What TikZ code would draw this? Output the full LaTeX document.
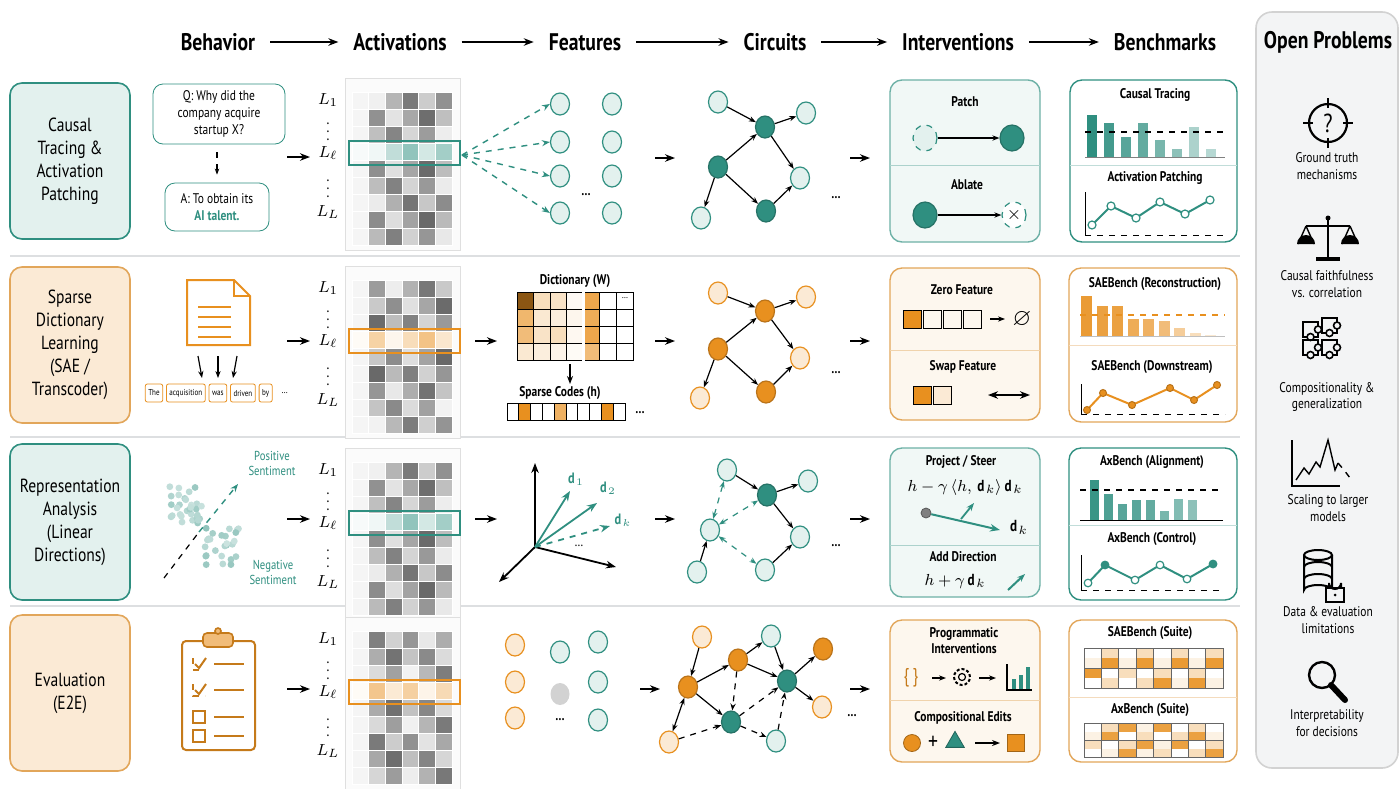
\documentclass[tikz,border=0pt]{standalone}
\usepackage{fontspec}
\setmainfont{PT Sans}[FakeStretch=0.82]
\usepackage{amsmath,amssymb}
\usetikzlibrary{shapes.geometric, arrows.meta, positioning, calc}
\definecolor{teal}{HTML}{2F8F80}
\definecolor{teallight}{HTML}{E3F1EE}
\definecolor{orng}{HTML}{E8901F}
\definecolor{orngline}{HTML}{E2A65A}
\definecolor{orglight}{HTML}{FBEAD5}
\colorlet{org}{orngline}
\colorlet{ornglight}{orglight}
\definecolor{panelgray}{HTML}{F3F4F5}
\definecolor{sepgray}{HTML}{DDDFE1}

% activation grid: #1 top y, #2 highlight colour, #3 name
\newcommand\actgrid[3]{%
  \fill[gray!3] (345,#1) rectangle (460,#1+172);
  \draw[gray!25, line width=0.4pt] (345,#1) rectangle (460,#1+172);
  \foreach \r in {0,...,8} {
    \foreach \c in {0,...,5} {
      \pgfmathtruncatemacro{\s}{\c==0 ? 4 : mod(37*\r+23*\c+11*#1,55)+5}
      \ifnum\r=3
        \fill[#2!\s!white] (352+\c*16.7,#1+14+\r*17) rectangle ++(16.7,17);
      \else
        \fill[black!\s!white] (352+\c*16.7,#1+14+\r*17) rectangle ++(16.7,17);
      \fi
      \draw[white, line width=0.4pt] (352+\c*16.7,#1+14+\r*17) rectangle ++(16.7,17);
    }
  }
  \draw[#2, line width=1.1pt] (349,#1+63) rectangle (460,#1+87);
  \node[lay] (#3l1) at (328,#1+22) {$L_1$};
  \node[lay] (#3d1) at (328,#1+48) {$\vdots$};
  \node[lay] (#3ll) at (328,#1+75) {$L_\ell$};
  \node[lay] (#3d2) at (328,#1+105) {$\vdots$};
  \node[lay] (#3lL) at (328,#1+134) {$L_L$};
}

\begin{document}
\begin{tikzpicture}[x=0.5pt, y=-0.5pt,
  hdr/.style={font=\fontsize{12}{14}\selectfont\bfseries},
  rowlab/.style={draw=#1, fill=#1light, rounded corners=6pt, line width=0.8pt,
    minimum width=60pt, minimum height=78pt, align=center,
    font=\fontsize{9.5}{11.5}\selectfont},
  lay/.style={font=\fontsize{8}{9}\selectfont},
  ttl/.style={font=\fontsize{7}{8}\selectfont\bfseries, align=center},
  sm/.style={font=\fontsize{7}{8.4}\selectfont, align=center},
  flow/.style={-{Stealth[length=5pt]}, line width=1pt},
  ed/.style={-{Stealth[length=3.5pt]}, line width=0.6pt},
  ded/.style={{Stealth[length=3.5pt]}-{Stealth[length=3.5pt]}, line width=0.6pt, dashed, teal},
  fn/.style={ellipse, draw=#1, fill=#1light, minimum width=9.5pt, minimum height=11pt, inner sep=0pt, line width=0.6pt},
  fd/.style={ellipse, draw=#1!80!black, fill=#1, minimum width=9.5pt, minimum height=11pt, inner sep=0pt, line width=0.6pt},
  tok/.style={draw=orng, rounded corners=1pt, font=\fontsize{4.3}{5}\selectfont, inner sep=1.5pt, minimum height=9pt}
]
\useasboundingbox (0,0) rectangle (1400,788);
\fill[white] (0,0) rectangle (1400,788);

% Headers
\node[hdr] (hbeh) at (218,42) {Behavior};
\node[hdr] (hact) at (400,42) {Activations};
\node[hdr] (hfea) at (585,42) {Features};
\node[hdr] (hcir) at (775,42) {Circuits};
\node[hdr] (hint) at (958,42) {Interventions};
\node[hdr] (hben) at (1165,42) {Benchmarks};
\foreach \a/\b in {hbeh/hact, hact/hfea, hfea/hcir, hcir/hint, hint/hben}
  \draw[flow] (\a.east) ++(8,0) -- ($(\b.west)+(-8,0)$);

% Separators
\foreach \y in {256,437,606}
  \draw[sepgray, line width=1pt] (10,\y) -- (1240,\y);

% Row labels
\node[rowlab=teal] (r1) at (70,161) {Causal\\Tracing \&\\Activation\\Patching};
\node[rowlab=org, fill=orglight] (r2) at (70,345) {Sparse\\Dictionary\\Learning\\(SAE /\\Transcoder)};
\node[rowlab=teal] (r3) at (70,522) {Representation\\Analysis\\(Linear\\Directions)};
\node[rowlab=org, fill=orglight] (r4) at (70,693) {Evaluation\\(E2E)};

% Row 1 behaviour
\node[draw=teal, rounded corners=5pt, sm, minimum width=66pt, minimum height=30pt, fill=white] (q1) at (219,114) {Q: Why did the\\company acquire\\startup X?};
\node[draw=teal, rounded corners=5pt, sm, minimum width=52pt, minimum height=24pt] (a1) at (217,207) {A: To obtain its\\\textcolor{teal}{\bfseries AI talent.}};
\draw[-{Stealth[length=3pt]}, dashed, line width=0.6pt] (q1.south) ++(-2,8) -- ($(a1.north)+(0,-8)$);
\actgrid{78}{teal}{g1}
\draw[flow] (287,157) -- (310,157);
% Row 1 features
\foreach \i/\y in {1/104,2/142,3/176,4/213} {
  \node[fn=teal] (fa\i) at (560,\y) {};
  \node[fn=teal] (fb\i) at (612,\y) {};
}
\node[sm] (fdots1) at (586,195) {\textbf{\dots}};
\coordinate (g1out) at (462,155);
\foreach \i in {1,...,4}
  \draw[teal, dashed, -{Stealth[length=4pt]}, line width=0.7pt] (g1out) -- (fa\i.west);
\draw[flow] (655,158) -- (675,158);
% Row 1 circuit
\node[fn=teal] (c1a) at (718,102) {};
\node[fd=teal] (c1b) at (765,127) {};
\node[fn=teal] (c1c) at (806,113) {};
\node[fd=teal] (c1d) at (718,167) {};
\node[fn=teal] (c1e) at (800,178) {};
\node[fd=teal] (c1f) at (766,211) {};
\node[fn=teal] (c1g) at (701,218) {};
\draw[ed] (c1a) -- (c1b); \draw[ed] (c1b) -- (c1c); \draw[ed] (c1d) -- (c1b);
\draw[ed] (c1b) -- (c1e); \draw[ed] (c1d) -- (c1f); \draw[ed] (c1f) -- (c1e);
\draw[ed, {Stealth[length=3.5pt]}-] (c1g) -- (c1d);
\node[sm] (cdots1) at (836,198) {\textbf{\dots}};
\draw[flow] (850,158) -- (870,158);
% Row 1 interventions
\draw[teal!70, fill=teallight!50, rounded corners=6pt, line width=0.7pt] (890,80) rectangle (1040,242);
\draw[teal!40] (890,165) -- (1040,165);
\node[ttl] (tpatch) at (965,102) {Patch};
\node[fn=teal, dashed, minimum width=12pt, minimum height=13pt] (p1) at (925,138) {};
\node[fd=teal, minimum width=12pt, minimum height=13pt] (p2) at (1012,138) {};
\draw[ed] (p1) -- (p2);
\node[ttl] (tabl) at (967,185) {Ablate};
\node[fd=teal, minimum width=12pt, minimum height=13pt] (ab1) at (925,215) {};
\node[fn=teal, dashed, fill=white, minimum width=12pt, minimum height=13pt, font=\small] (ab2) at (1014,215) {$\times$};
\draw[ed] (ab1) -- (ab2);
% Row 1 benchmarks
\draw[teal, fill=white, rounded corners=6pt, line width=0.7pt] (1070,80) rectangle (1237,242);
\draw[teal!30] (1070,165) -- (1237,165);
\node[ttl] (tct) at (1155,95) {Causal Tracing};
\foreach \i/\h/\o in {0/42/100,1/34/90,2/20/80,3/34/75,4/17/65,5/8/55,6/30/40,7/8/35}
  \fill[teal!\o!white] (1087+\i*17,157) rectangle ++(10,-\h);
\draw[gray] (1085,157) -- (1225,157);
\draw[dashed, line width=0.7pt] (1085,132) -- (1225,132);
\node[ttl] (tap) at (1155,178) {Activation Patching};
\draw (1085,192) -- (1085,235); \draw[dashed] (1085,235) -- (1225,235);
\draw[teal, line width=1pt] (1092,225) -- (1111,206) -- (1136,218) -- (1160,202) -- (1185,214) -- (1210,200);
\foreach \x/\y in {1092/225,1111/206,1136/218,1160/202,1185/214,1210/200}
  \draw[teal, fill=white, line width=0.6pt] (\x,\y) circle (4);

% Row 2 behaviour: document
\draw[orng, line width=1pt, fill=white] (187,280) -- (234,280) -- (250,296) -- (250,345) -- (187,345) -- cycle;
\draw[orng, line width=1pt] (234,280) -- (234,296) -- (250,296);
\foreach \y in {307,317,327,337} \draw[orng, line width=0.9pt] (198,\y) -- (231,\y);
\foreach \x/\d in {198/4,218/0,237/-4} \draw[ed] (\x,356) -- (\x+\d,378);
\node[tok] (t1) at (154,393) {The};
\node[tok, right=1.5pt of t1] (t2) {acquisition};
\node[tok, right=1.5pt of t2] (t3) {was};
\node[tok, right=1.5pt of t3] (t4) {driven};
\node[tok, right=1.5pt of t4] (t5) {by};
\node[font=\fontsize{5}{6}\selectfont, right=1pt of t5] (t6) {\dots};
\actgrid{266}{orng}{g2}
\draw[flow] (287,341) -- (310,341);
\draw[flow] (475,341) -- (497,341);
% Dictionary
\node[ttl] (tdict) at (575,281) {Dictionary (W)};
\foreach \c/\a/\b/\cc/\d in {0/85/65/60/20,1/30/20/25/15,2/25/15/30/10,3/5/8/6/4,4/80/75/80/60,5/0/0/0/0} {
  \fill[orng!\a!white] (517+\c*16.5,292) rectangle ++(16.5,17);
  \fill[orng!\b!white] (517+\c*16.5,309) rectangle ++(16.5,17);
  \fill[orng!\cc!white] (517+\c*16.5,326) rectangle ++(16.5,17);
  \fill[orng!\d!white] (517+\c*16.5,343) rectangle ++(16.5,17);
}
\fill[orng!60!black] (517,292) rectangle ++(16.5,17);
\foreach \c in {1,...,6} \draw (517+\c*16.5,292) -- ++(0,68);
\foreach \r in {1,2,3} \draw (517,292+\r*17) -- ++(116,0);
\draw (517,292) rectangle (633,360);
\draw[white, line width=1.5pt] (583,290) -- (583,362);
\node[font=\fontsize{5}{6}\selectfont] (ddots) at (625,298) {\dots};
\draw[-{Stealth[length=4pt]}, line width=1pt] (570,364) -- (570,384);
\node[ttl] (tcode) at (560,393) {Sparse Codes (h)};
\foreach \i in {0,...,9} {
  \pgfmathtruncatemacro{\o}{(\i==1 || \i==8) ? 100 : (\i==4 ? 70 : 0)}
  \fill[orng!\o!white] (507+\i*11.8,403) rectangle ++(11.8,17);
  \draw (507+\i*11.8,403) rectangle ++(11.8,17);
}
\node[ttl] (cdots) at (640,413) {\dots};
\draw[flow] (655,341) -- (675,341);
% Row 2 circuit
\node[fn=orng, fill=orglight] (c2a) at (718,293) {};
\node[fd=orng] (c2b) at (765,311) {};
\node[fn=orng, fill=orglight] (c2c) at (806,297) {};
\node[fd=orng] (c2d) at (718,349) {};
\node[fn=orng, fill=orglight] (c2e) at (800,358) {};
\node[fd=orng] (c2f) at (766,392) {};
\node[fn=orng, fill=orglight] (c2g) at (700,398) {};
\draw[ed] (c2a) -- (c2b); \draw[ed] (c2b) -- (c2c); \draw[ed] (c2d) -- (c2b);
\draw[ed] (c2b) -- (c2e); \draw[ed] (c2d) -- (c2f); \draw[ed] (c2f) -- (c2e);
\draw[ed, {Stealth[length=3.5pt]}-] (c2g) -- (c2d);
\node[sm] (cdots2) at (836,373) {\textbf{\dots}};
\draw[flow] (850,341) -- (870,341);
% Row 2 interventions
\draw[orngline, fill=orglight!40, rounded corners=6pt, line width=0.7pt] (890,268) rectangle (1040,420);
\draw[orngline!50] (890,350) -- (1040,350);
\node[ttl] (tzero) at (962,290) {Zero Feature};
\fill[orng] (903,310) rectangle ++(18,18);
\foreach \i in {0,...,3} \draw (903+\i*20,310) rectangle ++(18,18);
\draw[ed] (990,319) -- (1005,319);
\node[sm] (tnull) at (1022,319) {\large$\varnothing$};
\node[ttl] (tswap) at (963,367) {Swap Feature};
\fill[orng] (913,386) rectangle ++(18,18); \fill[orglight] (933,386) rectangle ++(18,18);
\draw (913,386) rectangle ++(18,18); \draw (933,386) rectangle ++(18,18);
\draw[{Stealth[length=5pt]}-{Stealth[length=5pt]}, line width=1.1pt] (988,395) -- (1030,395);
% Row 2 benchmarks
\draw[orngline, fill=white, rounded corners=6pt, line width=0.7pt] (1069,268) rectangle (1237,422);
\draw[orngline!40] (1069,345) -- (1237,345);
\node[ttl] (trec) at (1155,284) {SAEBench (Reconstruction)};
\foreach \i/\h/\o in {0/40/90,1/30/85,2/30/85,3/17/75,4/17/70,5/15/60,6/8/45,7/3/30,8/1/20}
  \fill[orng!\o!white] (1081+\i*15.5,336) rectangle ++(11,-\h);
\draw[gray!50] (1080,336) -- (1225,336);
\draw[orng, dashed, line width=0.7pt] (1080,315) -- (1225,315);
\node[ttl] (tdown) at (1152,367) {SAEBench (Downstream)};
\draw (1081,384) -- (1081,414); \draw[dashed] (1081,414) -- (1225,414);
\draw[orng, line width=1pt] (1087,410) -- (1103,393) -- (1132,405) -- (1170,388) -- (1194,400) -- (1217,385);
\foreach \x/\y in {1087/410,1103/393,1132/405,1170/388,1194/400,1217/385}
  \draw[orng!80!black, fill=orng, line width=0.5pt] (\x,\y) circle (3.5);

% Row 3 behaviour: scatter
\pgfmathsetseed{11}
\foreach \i in {1,...,30} {
  \pgfmathsetmacro{\px}{185+18*rand}
  \pgfmathsetmacro{\py}{503+22*rand}
  \pgfmathtruncatemacro{\pa}{25+25*rnd}
  \fill[teal!\pa!white] (\px,\py) circle (3.4);
}
\foreach \i in {1,...,26} {
  \pgfmathsetmacro{\px}{222+17*rand}
  \pgfmathsetmacro{\py}{548+20*rand}
  \pgfmathtruncatemacro{\pa}{25+30*rnd}
  \fill[teal!\pa!white] (\px,\py) circle (3.4);
}
\coordinate (sl0) at (164,578);
\draw[dashed, line width=0.6pt] (sl0) -- ++(35,-46);
\draw[teal, dashed, -{Stealth[length=4pt]}, line width=0.7pt] (199,532) -- (238,484);
\node[sm, text=teal, font=\fontsize{6.5}{7.5}\selectfont] (tpos) at (272,463) {Positive\\Sentiment};
\node[sm, text=teal, font=\fontsize{6.5}{7.5}\selectfont] (tneg) at (273,572) {Negative\\Sentiment};
\actgrid{448}{teal}{g3}
\draw[flow] (287,519) -- (310,519);
\draw[flow] (475,519) -- (497,519);
% Directions
\coordinate (o3) at (535,547);
\draw[-{Stealth[length=5pt]}, line width=0.9pt] (o3) -- (535,463);
\draw[-{Stealth[length=5pt]}, line width=0.9pt] (o3) -- (616,567);
\draw[-{Stealth[length=5pt]}, line width=0.9pt] (o3) -- (499,582);
\draw[teal, -{Stealth[length=5pt]}, line width=0.9pt] (o3) -- (570,491);
\draw[teal, -{Stealth[length=5pt]}, line width=0.9pt] (o3) -- (597,503);
\draw[teal, dashed, -{Stealth[length=5pt]}, line width=0.9pt] (o3) -- (610,526);
\node[text=teal, font=\fontsize{7.5}{9}\selectfont] (ld1) at (576,479) {$\mathbf{d}_1$};
\node[text=teal, font=\fontsize{7.5}{9}\selectfont] (ld2) at (608,488) {$\mathbf{d}_2$};
\node[text=teal, font=\fontsize{7.5}{9}\selectfont] (ldk) at (623,520) {$\mathbf{d}_k$};
\node[sm] (vdots) at (579,546) {\dots};
\draw[flow] (655,519) -- (675,519);
% Row 3 circuit
\node[fn=teal] (c3a) at (727,470) {};
\node[fd=teal] (c3b) at (767,495) {};
\node[fn=teal] (c3c) at (808,481) {};
\node[fn=teal] (c3d) at (710,530) {};
\node[fn=teal] (c3e) at (800,537) {};
\node[fn=teal] (c3f) at (765,570) {};
\node[fn=teal] (c3g) at (697,572) {};
\draw[ed] (c3a) -- (c3b); \draw[ed] (c3b) -- (c3c);
\draw[ded] (c3d) -- (c3a); \draw[ded] (c3d) -- (c3b); \draw[ded] (c3d) -- (c3f);
\draw[ed] (c3b) -- (c3e); \draw[ed] (c3f) -- (c3e); \draw[ed] (c3g) -- (c3d);
\node[sm] (cdots3) at (836,546) {\textbf{\dots}};
\draw[flow] (850,519) -- (870,519);
% Row 3 interventions
\draw[teal!70, fill=teallight!50, rounded corners=6pt, line width=0.7pt] (890,448) rectangle (1040,597);
\draw[teal!40] (890,545) -- (1040,545);
\node[ttl] (tproj) at (961,462) {Project / Steer};
\node[font=\fontsize{8}{9}\selectfont] (fproj) at (965,487) {$h-\gamma\,\langle h,\,\mathbf{d}_k\rangle\,\mathbf{d}_k$};
\node[circle, fill=gray, draw=gray!70!black, inner sep=0pt, minimum size=5pt] (pdot) at (926,513) {};
\coordinate (ptip) at (1000,530);
\draw[teal, -{Stealth[length=5pt]}, line width=1pt] (pdot) -- (ptip);
\draw[teal, -{Stealth[length=4pt]}, line width=0.9pt] (961,519) -- (974,503);
\node[font=\fontsize{8}{9}\selectfont] (pdk) at (1019,527) {$\mathbf{d}_k$};
\node[ttl] (tadd) at (963,557) {Add Direction};
\node[font=\fontsize{8}{9}\selectfont] (fadd) at (955,581) {$h+\gamma\,\mathbf{d}_k$};
\draw[teal, -{Stealth[length=4pt]}, line width=1pt] (1008,590) -- (1025,574);
% Row 3 benchmarks
\draw[teal, fill=white, rounded corners=6pt, line width=0.7pt] (1069,448) rectangle (1237,600);
\draw[teal!30] (1069,525) -- (1237,525);
\node[ttl] (taxa) at (1152,462) {AxBench (Alignment)};
\foreach \i/\h/\o in {0/40/95,1/26/85,2/16/80,3/20/80,4/20/75,5/9/65,6/21/60,7/20/55}
  \fill[teal!\o!white] (1090+\i*14,520) rectangle ++(9,-\h);
\draw (1080,520) -- (1223,520);
\draw[dashed, line width=0.7pt] (1080,490) -- (1223,490);
\node[ttl] (taxc) at (1152,539) {AxBench (Control)};
\draw (1081,555) -- (1081,590); \draw[dashed] (1081,590) -- (1222,590);
\draw[teal, line width=1pt] (1088,583) -- (1105,565) -- (1135,580) -- (1160,565) -- (1187,579) -- (1213,564);
\foreach \x/\y/\f in {1088/583/white,1105/565/teal,1135/580/white,1160/565/white,1187/579/white,1213/564/teal}
  \draw[teal, fill=\f, line width=0.6pt] (\x,\y) circle (3.8);

% Row 4 behaviour: clipboard
\draw[orng!85!black, line width=1pt, fill=white, rounded corners=2pt] (182,641) rectangle (255,750);
\draw[orng!85!black, fill=orng!60, rounded corners=2pt, line width=0.8pt] (203,633) rectangle (233,647);
\draw[orng!85!black, fill=orng!60, line width=0.8pt] (218,631) circle (3);
\foreach \y in {664,690,717,736} {
  \draw[orng!85!black, line width=0.9pt] (214,\y) -- (244,\y);
}
\foreach \y in {717,736} \draw[orng!85!black, line width=0.8pt] (193,\y-6) rectangle ++(12,12);
\foreach \y in {664,690} {
  \draw[orng!85!black, line width=0.8pt, dashed] (193,\y-6) -- (193,\y+6) -- (205,\y+6);
  \draw[orng!85!black, line width=1pt] (195,\y) -- (199,\y+4) -- (206,\y-6);
}
\actgrid{617}{orng}{g4}
\draw[flow] (287,689) -- (310,689);
% Row 4 features
\foreach \i/\y in {1/645,2/682,3/718} \node[fn=orng, fill=orglight] (fo\i) at (515,\y) {};
\node[fn=teal] (fm1) at (560,652) {};
\node[ellipse, fill=gray!35, minimum width=9.5pt, minimum height=11pt, inner sep=0pt] (fm2) at (560,694) {};
\node[sm] (fm3) at (560,720) {\textbf{\dots}};
\foreach \i/\y in {1/642,2/682,3/720} \node[fn=teal] (ft\i) at (598,\y) {};
\draw[flow] (640,689) -- (660,689);
% Row 4 circuit
\node[fn=orng, fill=orglight] (c4a) at (702,637) {};
\node[fn=teal] (c4b) at (771,636) {};
\node[fd=orng] (c4c) at (738,660) {};
\node[fd=orng] (c4d) at (688,687) {};
\node[fd=teal] (c4e) at (787,681) {};
\node[fd=orng] (c4f) at (823,649) {};
\node[fn=orng, fill=orglight] (c4g) at (822,707) {};
\node[fd=teal] (c4h) at (731,722) {};
\node[fn=teal] (c4i) at (776,741) {};
\node[fn=orng, fill=orglight] (c4j) at (669,742) {};
\draw[ed] (c4a) -- (c4d); \draw[ed] (c4d) -- (c4c); \draw[ed] (c4c) -- (c4b);
\draw[ed] (c4c) -- (c4e); \draw[ed] (c4b) -- (c4e); \draw[ed] (c4e) -- (c4f);
\draw[ed] (c4e) -- (c4g); \draw[ed] (c4d) -- (c4h);
\draw[ed, dashed] (c4c) -- (c4h); \draw[ed, dashed] (c4h) -- (c4e);
\draw[ed, dashed] (c4i) -- (c4e); \draw[ed, dashed] (c4h) -- (c4i);
\draw[ed, dashed] (c4j) -- (c4h);
\draw[ed, {Stealth[length=3.5pt]}-{Stealth[length=3.5pt]}] (c4j) -- (c4d);
\node[sm] (cdots4) at (852,716) {\textbf{\dots}};
\draw[flow] (850,689) -- (870,689);
% Row 4 interventions
\draw[orngline, fill=orglight!40, rounded corners=6pt, line width=0.7pt] (890,620) rectangle (1040,762);
\draw[orngline!50] (890,700) -- (1040,700);
\node[ttl] (tprog) at (964,641) {Programmatic\\Interventions};
\node[text=orng!85!black, font=\fontsize{10}{11}\selectfont] (brace) at (911,678) {\{\,\}};
\node[circle, draw, minimum size=8pt, inner sep=0pt, line width=1pt, dash pattern=on 1.5pt off 1pt] (gear) at (962,677) {};
\node[circle, draw, minimum size=3.5pt, inner sep=0pt, line width=0.6pt] (gearhub) at (962,677) {};
\draw[ed] (932,678) -- (946,678); \draw[ed] (979,678) -- (996,678);
\draw[line width=0.8pt] (1007,664) -- (1007,690) -- (1032,690);
\foreach \i/\h in {0/10,1/14,2/22} \fill[teal] (1012+\i*7,689) rectangle ++(4,-\h);
\node[ttl] (tcomp) at (963,718) {Compositional Edits};
\node[circle, fill=orng, draw=orng!70!black, minimum size=8.5pt, inner sep=0pt] (ce1) at (912,743) {};
\node[sm] (ceplus) at (933,743) {\large +};
\node[isosceles triangle, shape border rotate=90, fill=teal, draw=teal!70!black, minimum size=8pt, inner sep=0pt, isosceles triangle apex angle=60] (ce2) at (955,742) {};
\node[rectangle, fill=orng, draw=orng!70!black, minimum size=8.5pt, inner sep=0pt] (ce3) at (1016,743) {};
\draw[-{Stealth[length=4pt]}, line width=1pt] (975,743) -- (1000,743);
% Row 4 benchmarks
\draw[orngline, fill=white, rounded corners=6pt, line width=0.7pt] (1069,620) rectangle (1237,762);
\draw[orngline!40] (1069,697) -- (1237,697);
\node[ttl] (tsaes) at (1150,633) {SAEBench (Suite)};
\node[ttl] (taxs) at (1150,710) {AxBench (Suite)};
\foreach \r in {0,...,3} {
  \foreach \c in {0,...,7} {
    \pgfmathtruncatemacro{\s}{mod(29*\r+47*\c+13,97)}
    \pgfmathtruncatemacro{\s}{\s>70 ? 90 : (\s>45 ? 30 : (\s>25 ? 12 : 0))}
    \fill[orng!\s!white] (1084+\c*17.4,648+\r*10) rectangle ++(17.4,10);
    \pgfmathtruncatemacro{\t}{mod(31*\r+41*\c+7,97)}
    \pgfmathtruncatemacro{\t}{\t>72 ? 85 : (\t>45 ? 30 : (\t>25 ? 12 : 0))}
    \fill[orng!\t!white] (1084+\c*17.4,723+\r*8.5) rectangle ++(17.4,8.5);
  }
}
\draw[black!60, line width=0.4pt] (1084,648) rectangle (1223,688);
\foreach \c in {1,...,7} {
  \draw[black!60, line width=0.4pt] (1084+\c*17.4,648) -- ++(0,40);
  \draw[black!60, line width=0.4pt] (1084+\c*17.4,723) -- ++(0,34);
}
\draw[black!60, line width=0.4pt] (1084,668) -- (1223,668);
\draw[black!60, line width=0.4pt] (1084,723) rectangle (1223,757);
\draw[black!60, line width=0.4pt] (1084,740) -- (1223,740);

% Open problems panel
\draw[gray!35, fill=panelgray, rounded corners=8pt, line width=0.8pt] (1256,12) rectangle (1398,768);
\node[hdr] (hopen) at (1328,42) {Open Problems};
% ground truth
\draw[line width=1.1pt] (1328,123) circle (19);
\draw[line width=1pt] (1328,98) -- (1328,108) (1328,138) -- (1328,148) (1303,123) -- (1313,123) (1343,123) -- (1353,123);
\node[font=\fontsize{13}{13}\selectfont] (qmark) at (1328,123) {?};
\node[sm] (op1) at (1327,166) {Ground truth\\mechanisms};
% scales
\draw[line width=1.2pt] (1328,218) -- (1328,257);
\fill (1316,257) rectangle (1340,261);
\draw[line width=1pt] (1306,226) -- (1350,226);
\fill (1328,218) circle (2.5);
\draw[line width=0.7pt] (1306,226) -- (1298,244) (1306,226) -- (1314,244) (1350,226) -- (1342,244) (1350,226) -- (1358,244);
\fill (1297,244) arc[start angle=180, end angle=360, radius=9];
\fill (1341,244) arc[start angle=180, end angle=360, radius=9];
\node[sm] (op2) at (1327,284) {Causal faithfulness\\vs. correlation};
% puzzle
\foreach \dx/\dy in {0/0,19/-4,0/18,19/18} {
  \draw[line width=0.8pt] (1303+\dx,322+\dy) rectangle ++(15,15);
  \draw[line width=0.8pt, fill=panelgray] (1318+\dx,329.5+\dy) circle (3.5);
  \draw[line width=0.8pt, fill=panelgray] (1310.5+\dx,337+\dy) circle (3.5);
}
\node[sm] (op3) at (1327,397) {Compositionality \&\\generalization};
% scaling chart
\draw[line width=0.9pt] (1292,440) -- (1292,486) -- (1340,486);
\draw[line width=0.7pt] (1296,480) -- (1304,468) -- (1309,474) -- (1316,462) -- (1320,467) -- (1328,440) -- (1335,470) -- (1338,463);
\draw[line width=0.7pt, dashed] (1338,463) -- (1344,470) -- (1350,478);
\node[sm] (op4) at (1328,508) {Scaling to larger\\models};
% database + lock
\draw[line width=1pt] (1304,555) -- (1304,590) arc[start angle=180, end angle=360, x radius=14, y radius=5] -- (1332,555);
\draw[line width=1pt] (1318,555) ellipse[x radius=14, y radius=5];
\draw[line width=1pt] (1304,567) arc[start angle=180, end angle=360, x radius=14, y radius=5];
\draw[line width=1pt] (1304,579) arc[start angle=180, end angle=360, x radius=14, y radius=5];
\draw[line width=1pt, fill=panelgray] (1326,588) rectangle (1344,602);
\draw[line width=1pt] (1329,588) -- (1329,583) arc[start angle=180, end angle=0, radius=6] -- (1341,588);
\fill (1335,595) circle (1.5);
\node[sm] (op5) at (1328,620) {Data \& evaluation\\limitations};
% magnifier
\draw[line width=1.2pt] (1322,675) circle (13);
\draw[line width=3pt, line cap=round] (1331,685) -- (1345,700);
\node[sm] (op6) at (1327,723) {Interpretability\\for decisions};
\end{tikzpicture}
\end{document}
